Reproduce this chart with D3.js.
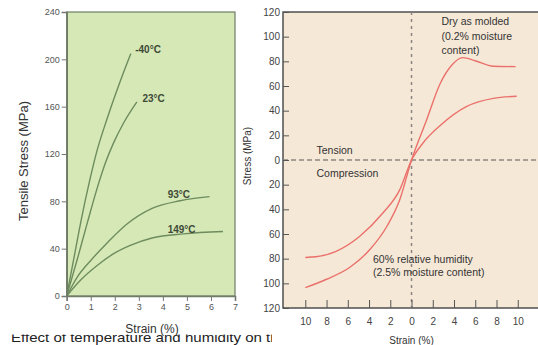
<!DOCTYPE html>
<html>
<head>
<meta charset="utf-8">
<script src="https://cdn.jsdelivr.net/npm/d3@7"></script>
<style>
  html, body { margin: 0; padding: 0; background: #fff; }
  svg { display: block; font-family: "Liberation Sans", Arial, sans-serif; }
</style>
</head>
<body>
<div id="chart"></div>
<script>
'use strict';

// left panel: tensile stress vs strain at four temperatures
const tempStrainTicks = [0, 1, 2, 3, 4, 5, 6, 7];
const tempStressTicks = [0, 40, 80, 120, 160, 200, 240];
const tempLabels = ['-40°C', '23°C', '93°C', '149°C'];
const cold = [[0, 0], [0.3, 32], [0.6, 64], [0.95, 97], [1.25, 122], [1.7, 151], [2.2, 180], [2.67, 205]];
const room = [[0, 0], [0.44, 31], [0.86, 62], [1.28, 92], [1.6, 112], [1.94, 129], [2.36, 146], [2.92, 164]];
const warm = [[0, 0], [0.44, 16], [1.0, 30], [1.69, 45], [2.52, 61], [3.55, 74], [4.72, 80.5], [5.94, 84]];
const hot = [[0, 0], [0.58, 13.5], [1.28, 26], [1.97, 36], [2.67, 43], [3.55, 49], [4.86, 52.5], [6.5, 54.5]];

// right panel: stress vs strain, dry vs humid (compression on the left/bottom)
const humStrainTicks = [-10, -8, -6, -4, -2, 0, 2, 4, 6, 8, 10];
const humStressTicks = [-120, -100, -80, -60, -40, -20, 0, 20, 40, 60, 80, 100, 120];
const dry = [[-10, -103.5], [-8, -96.7], [-5.8, -87], [-3.9, -72.4], [-2.3, -53.5], [-1.1, -32], [0, 0],
             [1.4, 32], [2.7, 62], [3.8, 77], [4.8, 83], [6, 80.5], [7.7, 76], [9.8, 75.7]];
const humid = [[-10, -79], [-9, -78.5], [-7.1, -74], [-4.9, -62], [-2.7, -43], [-1.1, -24], [0, 0],
               [1.1, 14], [2.7, 28], [5.2, 43.5], [7.7, 50], [9.9, 51.7]];

const W = 538, H = 345;
const svg = d3.select('#chart').append('svg').attr('width', W).attr('height', H);

// ---------- left panel ----------
const xL = d3.scaleLinear().domain([0, 7]).range([66.7, 235]);
const yL = d3.scaleLinear().domain([0, 240]).range([296, 12]);
const left = svg.append('g');

left.append('rect')
    .attr('x', xL(0)).attr('y', yL(240))
    .attr('width', xL(7) - xL(0)).attr('height', yL(0) - yL(240))
    .attr('fill', '#d5e8b6')
    .attr('stroke', '#6f7d66').attr('stroke-width', 1.2);

const lineL = d3.line().x(d => xL(d[0])).y(d => yL(d[1])).curve(d3.curveMonotoneX);
left.selectAll('.temp-curve')
    .data([cold, room, warm, hot])
    .enter().append('path')
    .attr('class', 'temp-curve')
    .attr('d', lineL)
    .attr('fill', 'none')
    .attr('stroke', '#6e8c5e')
    .attr('stroke-width', 1.4);

const labelPos = [[2.85, 205], [3.15, 164], [4.2, 83], [4.2, 53]];
left.selectAll('.temp-label')
    .data(tempLabels)
    .enter().append('text')
    .attr('class', 'temp-label')
    .attr('x', (d, i) => xL(labelPos[i][0]))
    .attr('y', (d, i) => yL(labelPos[i][1]))
    .attr('font-size', 10)
    .attr('font-weight', 'bold')
    .attr('fill', '#404a38')
    .text(d => d);

const axL = left.append('g').attr('transform', `translate(${xL(0)},0)`)
    .call(d3.axisLeft(yL).tickValues(tempStressTicks).tickSize(5).tickPadding(2));
const axB = left.append('g').attr('transform', `translate(0,${yL(0)})`)
    .call(d3.axisBottom(xL).tickValues(tempStrainTicks).tickSize(5).tickPadding(3)
        .tickFormat(d3.format('d')));
[axL, axB].forEach(a => {
    a.select('.domain').attr('stroke', '#6f7d66').attr('stroke-width', 1.6);
    a.selectAll('.tick line').attr('stroke', '#777');
    a.selectAll('.tick text').attr('font-size', 9).attr('fill', '#555').attr('font-family', null);
});

left.append('text')
    .attr('transform', 'translate(28,161) rotate(-90)')
    .attr('text-anchor', 'middle')
    .attr('font-size', 13)
    .attr('fill', '#333')
    .text('Tensile Stress (MPa)');

// caption, its top and end hidden behind the chart image
svg.append('clipPath').attr('id', 'cap-clip')
    .append('rect').attr('x', 0).attr('y', 334.5).attr('width', 272).attr('height', 20);
svg.append('g')
    .attr('clip-path', 'url(#cap-clip)')
    .append('text')
    .attr('transform', 'translate(11,342) scale(1.16,1)')
    .attr('font-size', 13)
    .attr('fill', '#222')
    .text('Effect of temperature and humidity on the');

left.append('text')
    .attr('x', 152).attr('y', 333)
    .attr('text-anchor', 'middle')
    .attr('font-size', 12)
    .attr('fill', '#333')
    .text('Strain (%)');

// ---------- right panel ----------
const xR = d3.scaleLinear().domain([-12.1, 12]).range([283, 539]);
const yR = d3.scaleLinear().domain([-120, 120]).range([308, 12]);
const right = svg.append('g');

right.append('rect')
    .attr('x', xR(-12.1)).attr('y', yR(120))
    .attr('width', 270).attr('height', yR(-120) - yR(120))
    .attr('fill', '#f6e8d7')
    .attr('stroke', '#444').attr('stroke-width', 1.4);

// zero lines
right.append('line')
    .attr('x1', xR(-12.1)).attr('x2', 540)
    .attr('y1', yR(0)).attr('y2', yR(0))
    .attr('stroke', '#8a8580').attr('stroke-width', 1.5).attr('stroke-dasharray', '5,3');
right.append('line')
    .attr('x1', xR(0)).attr('x2', xR(0))
    .attr('y1', yR(120)).attr('y2', yR(-120))
    .attr('stroke', '#8a8580').attr('stroke-width', 1.5).attr('stroke-dasharray', '3,4');

const lineR = d3.line().x(d => xR(d[0])).y(d => yR(d[1])).curve(d3.curveMonotoneX);
right.selectAll('.hum-curve')
    .data([dry, humid])
    .enter().append('path')
    .attr('class', 'hum-curve')
    .attr('d', lineR)
    .attr('fill', 'none')
    .attr('stroke', '#ea716b')
    .attr('stroke-width', 1.4);

const axRL = right.append('g').attr('transform', `translate(${xR(-12.1)},0)`)
    .call(d3.axisLeft(yR).tickValues(humStressTicks).tickSize(-6).tickPadding(3)
        .tickFormat(d => Math.abs(d)));
const axRB = right.append('g').attr('transform', `translate(0,${yR(-120)})`)
    .call(d3.axisBottom(xR).tickValues(humStrainTicks).tickSize(-8).tickPadding(10)
        .tickFormat(d => Math.abs(d)));
[axRL, axRB].forEach(a => {
    a.select('.domain').remove();
    a.selectAll('.tick line').attr('stroke', '#555');
    a.selectAll('.tick text').attr('font-size', 10).attr('fill', '#444').attr('font-family', null);
});

right.append('text')
    .attr('transform', 'translate(251,156) rotate(-90)')
    .attr('text-anchor', 'middle')
    .attr('font-size', 10)
    .attr('fill', '#333')
    .text('Stress (MPa)');

right.append('text')
    .attr('x', xR(0)).attr('y', 344)
    .attr('text-anchor', 'middle')
    .attr('font-size', 10)
    .attr('fill', '#333')
    .text('Strain (%)');

const notes = [
    {x: 441.5, y: 25, t: 'Dry as molded'},
    {x: 441.5, y: 39.5, t: '(0.2% moisture'},
    {x: 441.5, y: 54, t: 'content)'},
    {x: 316.5, y: 154, t: 'Tension'},
    {x: 316.5, y: 177, t: 'Compression'},
    {x: 373, y: 263, t: '60% relative humidity'},
    {x: 373, y: 276, t: '(2.5% moisture content)'}
];
right.selectAll('.note')
    .data(notes)
    .enter().append('text')
    .attr('class', 'note')
    .attr('x', d => d.x).attr('y', d => d.y)
    .attr('font-size', 10.5)
    .attr('fill', '#333')
    .text(d => d.t);
</script>
</body>
</html>
